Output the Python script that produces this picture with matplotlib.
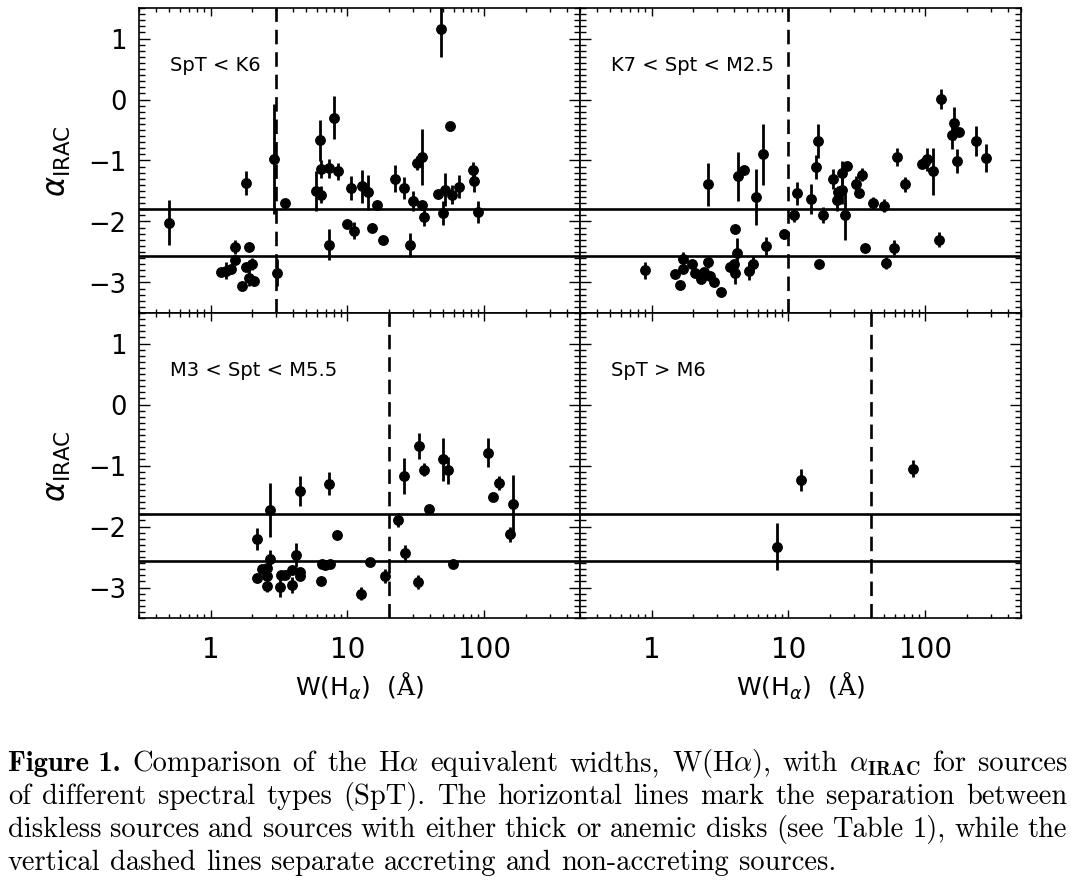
import matplotlib
matplotlib.use('Agg')
import matplotlib.pyplot as plt
from matplotlib.ticker import FixedLocator, MultipleLocator, LogLocator, NullFormatter, FuncFormatter

# ---------------- data ----------------
# Panel 1: SpT < K6
w_k6 = [0.50, 1.80, 1.20, 1.30, 1.41, 1.52, 1.52, 1.70, 1.82, 1.90, 2.01, 1.90, 2.09, 2.91, 3.06,
        3.50, 5.88, 6.29, 6.43, 6.43, 7.31, 7.31, 8.0, 8.5, 9.95, 10.6, 11.2, 12.7, 14.2, 15.0,
        16.4, 18.1, 22.1, 25.7, 28.8, 29.9, 32.0, 34.8, 35.0, 36.0, 46.0, 48.6, 49.8, 52.0, 56.2,
        57.8, 65.8, 83.2, 84.6, 90.4]
a_k6 = [-2.02, -1.37, -2.82, -2.81, -2.78, -2.42, -2.63, -3.06, -2.74, -2.42, -2.70, -2.92, -2.97, -0.98, -2.84,
        -1.70, -1.50, -0.67, -1.14, -1.56, -1.13, -2.38, -0.30, -1.18, -2.04, -1.45, -2.15, -1.42, -1.52, -2.10,
        -1.73, -2.30, -1.30, -1.45, -2.39, -1.66, -1.04, -0.94, -1.73, -1.92, -1.55, 1.15, -1.86, -1.48, -0.43,
        -1.56, -1.43, -1.15, -1.34, -1.85]
e_k6 = [0.37, 0.19, 0.05, 0.14, 0.05, 0.12, 0.05, 0.05, 0.05, 0.05, 0.10, 0.14, 0.05, 0.90, 0.22,
        0.05, 0.33, 0.34, 0.15, 0.14, 0.15, 0.25, 0.35, 0.14, 0.05, 0.20, 0.14, 0.27, 0.29, 0.07,
        0.07, 0.05, 0.22, 0.18, 0.20, 0.16, 0.12, 0.46, 0.07, 0.15, 0.05, 0.45, 0.20, 0.27, 0.05,
        0.16, 0.19, 0.12, 0.18, 0.18]

# Panel 2: K7 < SpT < M2.5
w_k7 = [0.90, 1.49, 1.60, 1.69, 1.69, 1.98, 2.09, 2.30, 2.43, 2.58, 2.57, 2.65, 2.88, 3.19, 3.71,
        4.04, 4.04, 4.20, 3.99, 4.27, 4.70, 5.11, 5.50, 5.83, 6.56, 6.89, 9.35, 10.9, 11.5, 14.7,
        16.5, 16.0, 16.6, 17.9, 21.1, 22.7, 23.1, 24.5, 24.5, 25.9, 26.6, 31.0, 33.0, 34.3, 36.3,
        41.6, 50.0, 51.2, 58.9, 62.0, 71.0, 95.1, 100.0, 102.8, 114.5, 125.3, 131.0, 156.0, 163.0, 169.0,
        177.0, 235.0, 277.0]
a_k7 = [-2.80, -2.86, -3.04, -2.62, -2.78, -2.69, -2.85, -2.95, -2.82, -2.67, -1.39, -2.89, -3.00, -3.16, -2.75,
        -2.12, -2.85, -2.52, -2.70, -1.26, -1.16, -2.81, -2.70, -1.60, -0.90, -2.40, -2.20, -1.90, -1.54, -1.63,
        -0.68, -1.11, -2.69, -1.90, -1.30, -1.64, -1.52, -1.48, -1.20, -1.89, -1.09, -1.38, -1.54, -1.23, -2.44,
        -1.70, -1.74, -2.68, -2.43, -0.94, -1.39, -1.05, -1.02, -0.98, -1.18, -2.30, 0.01, -0.59, -0.39, -1.01,
        -0.54, -0.68, -0.96]
e_k7 = [0.14, 0.05, 0.05, 0.12, 0.05, 0.05, 0.05, 0.05, 0.05, 0.10, 0.35, 0.05, 0.05, 0.05, 0.05,
        0.05, 0.17, 0.25, 0.05, 0.40, 0.05, 0.15, 0.13, 0.46, 0.50, 0.15, 0.08, 0.11, 0.19, 0.24,
        0.28, 0.20, 0.05, 0.13, 0.16, 0.18, 0.10, 0.23, 0.19, 0.42, 0.05, 0.12, 0.05, 0.10, 0.05,
        0.10, 0.11, 0.10, 0.12, 0.15, 0.12, 0.05, 0.10, 0.19, 0.38, 0.12, 0.17, 0.22, 0.27, 0.20,
        0.05, 0.24, 0.23]

# Panel 3: M3 < SpT < M5.5
w_m3 = [2.20, 2.20, 2.38, 2.57, 2.60, 2.60, 2.70, 2.70, 3.22, 3.27, 3.50, 3.93, 3.93, 4.20, 4.50,
        4.50, 4.50, 6.40, 6.47, 6.88, 7.36, 7.48, 8.37, 12.5, 14.5, 18.7, 23.3, 26.0, 26.3, 32.5,
        33.3, 36.2, 39.5, 50.3, 54.4, 59.5, 106.0, 116.0, 129.0, 153.0, 161.0]
a_m3 = [-2.21, -2.85, -2.69, -2.68, -2.81, -2.98, -1.73, -2.53, -2.99, -2.80, -2.80, -2.72, -2.96, -2.47, -1.42,
        -2.74, -2.81, -2.89, -2.61, -2.63, -1.30, -2.61, -2.14, -3.10, -2.58, -2.81, -1.89, -1.17, -2.44, -2.91,
        -0.68, -1.07, -1.72, -0.90, -1.08, -2.62, -0.79, -1.52, -1.29, -2.13, -1.63]
e_m3 = [0.18, 0.05, 0.05, 0.05, 0.05, 0.10, 0.44, 0.15, 0.17, 0.05, 0.05, 0.05, 0.13, 0.20, 0.24,
        0.05, 0.05, 0.05, 0.05, 0.05, 0.19, 0.05, 0.05, 0.11, 0.05, 0.12, 0.11, 0.29, 0.14, 0.11,
        0.22, 0.11, 0.05, 0.35, 0.22, 0.05, 0.24, 0.05, 0.11, 0.12, 0.47]

# Panel 4: SpT > M6
w_m6 = [8.30, 12.3, 80.7]
a_m6 = [-2.33, -1.24, -1.05]
e_m6 = [0.39, 0.18, 0.14]

panel_labels = ['SpT < K6', 'K7 < Spt < M2.5', 'M3 < Spt < M5.5', 'SpT > M6']
accretion_limits = [3.0, 10.0, 20.0, 40.0]
disk_limits = [-1.8, -2.56]
x_ticks = [1, 10, 100]
y_ticks = [-3, -2, -1, 0, 1]

# ---------------- figure ----------------
plt.rcParams['font.family'] = ['DejaVu Sans']
plt.rcParams['mathtext.fontset'] = 'custom'
plt.rcParams['mathtext.rm'] = 'DejaVu Serif'
plt.rcParams['mathtext.it'] = 'DejaVu Sans:italic'
plt.rcParams['mathtext.sf'] = 'DejaVu Sans'
plt.rcParams['mathtext.bf'] = 'DejaVu Sans:bold'

W, H = 1075, 895
fig = plt.figure(figsize=(W / 100, H / 100), dpi=100)

def frac_rect(l, r, t, b):
    return [l / W, 1 - b / H, (r - l) / W, (b - t) / H]

rects = [frac_rect(139, 580, 9, 314), frac_rect(580, 1021, 9, 314),
         frac_rect(139, 580, 314, 619), frac_rect(580, 1021, 314, 619)]
data = [(w_k6, a_k6, e_k6), (w_k7, a_k7, e_k7), (w_m3, a_m3, e_m3), (w_m6, a_m6, e_m6)]

def ytick_fmt(v, pos):
    return ('\u2212%d' % abs(round(v))) if v < 0 else '%d' % round(v)

for i, (rect, (w, a, e)) in enumerate(zip(rects, data)):
    ax = fig.add_axes(rect)
    ax.set_xscale('log')
    ax.set_xlim(0.3, 500)
    ax.set_ylim(-3.5, 1.5)
    for yv in disk_limits:
        ax.axhline(yv, color='black', lw=1.9, zorder=2)
    ax.axvline(accretion_limits[i], color='black', lw=1.9, ls=(0, (5.5, 3)), zorder=2)
    ax.errorbar(w, a, yerr=e, fmt='o', color='black', ms=6.8, elinewidth=2.0,
                capsize=0, zorder=3)
    ax.text(0.07, 0.816, panel_labels[i], transform=ax.transAxes, fontsize=14, va='center')

    ax.xaxis.set_major_locator(FixedLocator(x_ticks))
    ax.xaxis.set_minor_locator(LogLocator(base=10, subs=range(2, 10)))
    ax.xaxis.set_minor_formatter(NullFormatter())
    ax.yaxis.set_major_locator(FixedLocator(y_ticks))
    ax.yaxis.set_minor_locator(MultipleLocator(0.1))
    ax.tick_params(which='both', direction='in', top=True, right=True, width=1.0)
    ax.tick_params(axis='y', which='major', length=8, pad=9, labelsize=18.5)
    ax.tick_params(axis='y', which='minor', length=4)
    ax.tick_params(axis='x', which='major', length=6, pad=12, labelsize=20)
    ax.tick_params(axis='x', which='minor', length=3)
    for sp in ax.spines.values():
        sp.set_linewidth(1.2)

    if i >= 2:
        ax.xaxis.set_major_formatter(FuncFormatter(lambda v, p: '%d' % round(v)))
        ax.set_xlabel(r'W(H$_{\alpha}$)  ($\mathrm{\AA}$)', fontsize=18, labelpad=5)
    else:
        ax.xaxis.set_major_formatter(NullFormatter())
    if i % 2 == 0:
        ax.yaxis.set_major_formatter(FuncFormatter(ytick_fmt))
        ax.set_ylabel(r'$\alpha_{\mathsf{IRAC}}$', fontsize=22, labelpad=11)
    else:
        ax.yaxis.set_major_formatter(NullFormatter())

# ---------------- caption (justified) ----------------
cap_size = 20.5
cap_lines = [
    [('Figure 1.', 'cmb10'), ('Comparison', 'cmr10'), ('of', 'cmr10'), ('the', 'cmr10'),
     (r'H$\alpha$', 'cmr10'), ('equivalent', 'cmr10'), ('widths,', 'cmr10'),
     (r'W(H$\alpha$),', 'cmr10'), ('with', 'cmr10'), (r'$\alpha_{\mathbf{IRAC}}$', 'cmr10'),
     ('for', 'cmr10'), ('sources', 'cmr10')],
    [(s, 'cmr10') for s in 'of different spectral types (SpT). The horizontal lines mark the separation between'.split()],
    [(s, 'cmr10') for s in 'diskless sources and sources with either thick or anemic disks (see Table 1), while the'.split()],
    [(s, 'cmr10') for s in 'vertical dashed lines separate accreting and non-accreting sources.'.split()],
]
baselines = [771, 804, 837, 870]
x_left, x_right = 8, 1067

fig.canvas.draw()
renderer = fig.canvas.get_renderer()
for li, (words, yb) in enumerate(zip(cap_lines, baselines)):
    texts = []
    for s, fam in words:
        t = fig.text(0, 1 - yb / H, s, fontsize=cap_size, family=fam, va='baseline',
                     ha='left', math_fontfamily='cm')
        texts.append(t)
    widths = [t.get_window_extent(renderer).width for t in texts]
    if li < len(cap_lines) - 1:
        gap = (x_right - x_left - sum(widths)) / (len(texts) - 1)
    else:
        gap = cap_size * 100 / 72 * 0.34
    x = x_left
    for t, wd in zip(texts, widths):
        t.set_x(x / W)
        x += wd + gap

fig.savefig('out.png', dpi=100)
